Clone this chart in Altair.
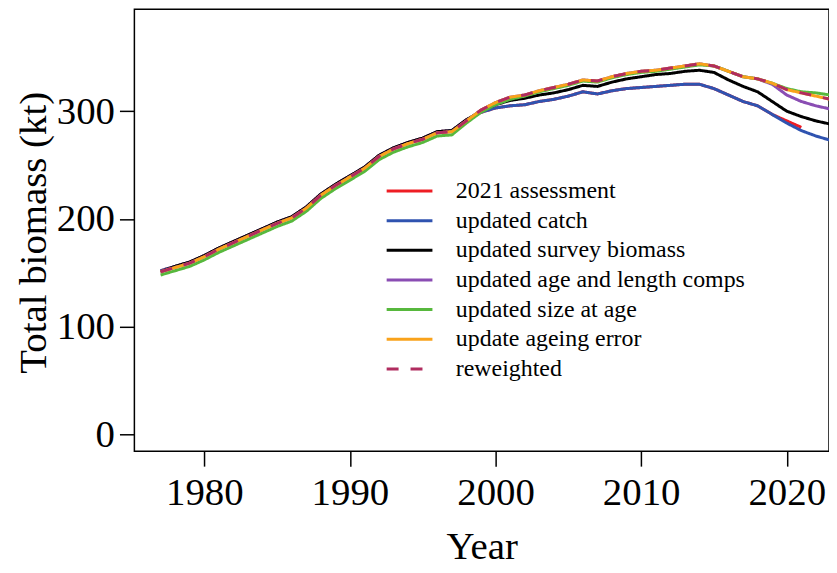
import altair as alt
import pandas as pd

years = list(range(1977, 2024))

assess_2021 = [152, 156, 160, 166, 173, 179, 185, 191, 197, 202, 211, 223, 232, 240, 248, 259, 266, 271, 275, 281, 282, 292,
               299, 303, 305, 306, 309, 311, 314, 318, 316, 319, 321, 322, 323, 324, 325, 325, 321, 315, 309, 305, 297, 291, 285]
updated_catch = [152, 156, 160, 166, 173, 179, 185, 191, 197, 202, 211, 223, 232, 240, 248, 259, 266, 271, 275, 281, 282, 292,
                 299, 303, 305, 306, 309, 311, 314, 318, 316, 319, 321, 322, 323, 324, 325, 325, 321, 315, 309, 305, 297, 289, 282, 277, 273]
updated_survey = [151, 156, 160, 166, 173, 179, 185, 191, 197, 202, 211, 223, 232, 240, 248, 259, 266, 271, 275, 281, 282, 292,
                  300, 306, 310, 312, 315, 317, 320, 324, 323, 327, 330, 332, 334, 335, 337, 338, 336, 329, 323, 318, 309, 300, 295, 291, 288]
updated_comps = [151, 155, 159, 165, 172, 178, 184, 190, 196, 201, 210, 222, 231, 239, 247, 258, 265, 270, 274, 280, 281, 291,
                 301, 308, 313, 315, 319, 322, 325, 329, 328, 332, 335, 337, 338, 340, 342, 344, 342, 337, 332, 330, 325, 315, 309, 305, 302]
updated_size = [148, 152, 156, 162, 169, 175, 181, 187, 193, 198, 207, 219, 228, 236, 244, 255, 262, 267, 271, 277, 278, 289,
                299, 306, 311, 314, 318, 321, 324, 328, 327, 331, 334, 336, 337, 339, 341, 343, 342, 337, 332, 330, 326, 321, 318, 317, 315]
ageing_error = [151, 155, 159, 165, 172, 178, 184, 190, 196, 201, 210, 222, 231, 239, 247, 258, 265, 270, 274, 280, 281, 291,
                301, 308, 313, 315, 319, 322, 325, 329, 328, 332, 335, 337, 338, 340, 342, 344, 342, 337, 332, 330, 326, 320, 317, 314, 311]
reweighted = [151, 155, 159, 165, 172, 178, 184, 190, 196, 201, 210, 222, 231, 239, 247, 258, 265, 270, 274, 280, 281, 291,
              301, 308, 313, 315, 319, 322, 325, 329, 328, 332, 335, 337, 338, 340, 342, 344, 342, 337, 332, 330, 326, 320, 317, 314, 311]

series_names = ["2021 assessment", "updated catch", "updated survey biomass",
                "updated age and length comps", "updated size at age",
                "update ageing error", "reweighted"]
series_values = [assess_2021, updated_catch, updated_survey, updated_comps,
                 updated_size, ageing_error, reweighted]
colors = ["#EE1D24", "#2F53B0", "#000000", "#8A4DB3", "#57B83D", "#F9A21B", "#B02C5F"]
dashes = [[1, 0], [1, 0], [1, 0], [1, 0], [1, 0], [1, 0], [12, 12]]

x_ticks = [1980, 1990, 2000, 2010, 2020]
y_ticks = [0, 100, 200, 300]

rows = []
for name, vals in zip(series_names, series_values):
    for yr, v in zip(years, vals):
        rows.append({"series": name, "year": yr, "biomass": v})
df = pd.DataFrame(rows)

FONT = "Liberation Serif, Times New Roman, serif"

color_scale = alt.Scale(domain=series_names, range=colors)
dash_scale = alt.Scale(domain=series_names, range=dashes)

legend_cfg = dict(orient="none", legendX=252, legendY=170,
                  title=None, symbolType="stroke",
                  symbolSize=2116, symbolStrokeWidth=3,
                  labelFont=FONT, labelFontSize=24, labelLimit=500,
                  labelOffset=22, clipHeight=25, rowPadding=4.8,
                  padding=0, labelColor="black")

x_enc = alt.X("year:Q",
              scale=alt.Scale(domain=[1975.2, 2022.9], nice=False, zero=False),
              axis=alt.Axis(values=x_ticks, format="d", title="Year",
                            tickSize=15, labelPadding=8, titleY=96,
                            titleBaseline="middle"))
y_enc = alt.Y("biomass:Q",
              scale=alt.Scale(domain=[-15.5, 394.5], nice=False, zero=False),
              axis=alt.Axis(values=y_ticks, title="Total biomass (kt)",
                            tickSize=15, labelPadding=5, titleX=-101, titleY=224,
                            titleBaseline="middle"))

layers = []
for i, name in enumerate(series_names):
    enc = dict(x=x_enc, y=y_enc,
               color=alt.Color("series:N", scale=color_scale, sort=series_names,
                               legend=alt.Legend(**legend_cfg)),
               strokeDash=alt.StrokeDash("series:N", scale=dash_scale, sort=series_names,
                                         legend=alt.Legend(**legend_cfg)))
    layer = alt.Chart(df).transform_filter(
        alt.datum.series == name
    ).mark_line(strokeWidth=3, clip=True).encode(**enc)
    layers.append(layer)

chart = alt.layer(*layers).properties(
    width=698, height=444,
    autosize=alt.AutoSizeParams(type="none"),
    padding={"left": 127, "top": 0, "right": 0, "bottom": 119},
).configure_view(
    stroke="black", strokeWidth=1.5
).configure_axis(
    grid=False, domain=False, tickColor="black", tickWidth=1.5,
    labelFont=FONT, labelFontSize=39, labelColor="black",
    titleFont=FONT, titleFontSize=39, titleColor="black", titleFontWeight="normal",
)

chart.save("out.html", embed_options={"renderer": "svg", "actions": False})
